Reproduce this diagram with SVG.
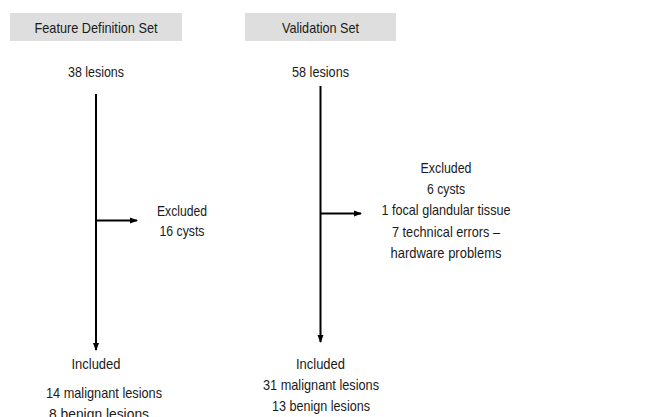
<svg xmlns="http://www.w3.org/2000/svg" width="665" height="417" viewBox="0 0 665 417">
<defs>
<marker id="ah" viewBox="0 0 8 8" refX="7" refY="4" markerWidth="8" markerHeight="8" markerUnits="userSpaceOnUse" orient="auto">
<path d="M0,1 L8,4 L0,7 Z" fill="#000"/>
</marker>
<style>
text{font-family:"Liberation Sans",Arial,sans-serif;font-size:15px;fill:#1a1a1a;text-anchor:middle}
.hdr{fill:#dedede}
.ln{stroke:#000;stroke-width:2;fill:none}
</style>
</defs>
<rect width="665" height="417" fill="#fff"/>
<g id="hdr-feature"><rect class="hdr" x="10" y="13" width="172" height="28"/><text x="96" y="33" textLength="123" lengthAdjust="spacingAndGlyphs">Feature Definition Set</text></g>
<g id="hdr-validation"><rect class="hdr" x="245" y="13" width="151" height="28"/><text x="320.5" y="33" textLength="77" lengthAdjust="spacingAndGlyphs">Validation Set</text></g>
<g id="n-38"><text x="96" y="77" textLength="56" lengthAdjust="spacingAndGlyphs">38 lesions</text></g>
<g id="n-58"><text x="320.5" y="77" textLength="57" lengthAdjust="spacingAndGlyphs">58 lesions</text></g>
<g id="n-excl-left"><text x="182" y="216" textLength="50" lengthAdjust="spacingAndGlyphs">Excluded</text><text x="182" y="236" textLength="45" lengthAdjust="spacingAndGlyphs">16 cysts</text></g>
<g id="n-excl-right"><text x="446" y="173" textLength="51" lengthAdjust="spacingAndGlyphs">Excluded</text><text x="446" y="194" textLength="38" lengthAdjust="spacingAndGlyphs">6 cysts</text><text x="446" y="215" textLength="129" lengthAdjust="spacingAndGlyphs">1 focal glandular tissue</text><text x="446" y="237" textLength="108" lengthAdjust="spacingAndGlyphs">7 technical errors –</text><text x="446" y="258" textLength="111" lengthAdjust="spacingAndGlyphs">hardware problems</text></g>
<g id="n-incl-left"><text x="96" y="369" textLength="49" lengthAdjust="spacingAndGlyphs">Included</text><text x="104" y="398" textLength="116" lengthAdjust="spacingAndGlyphs">14 malignant lesions</text><text x="99" y="419" textLength="100" lengthAdjust="spacingAndGlyphs">8 benign lesions</text></g>
<g id="n-incl-right"><text x="320.5" y="369" textLength="49" lengthAdjust="spacingAndGlyphs">Included</text><text x="321" y="390" textLength="116" lengthAdjust="spacingAndGlyphs">31 malignant lesions</text><text x="321" y="411" textLength="98" lengthAdjust="spacingAndGlyphs">13 benign lesions</text></g>
<g id="connectors">
<line class="ln" x1="96" y1="94" x2="96" y2="350" marker-end="url(#ah)"/>
<line class="ln" x1="96" y1="220.5" x2="137" y2="220.5" marker-end="url(#ah)"/>
<line class="ln" x1="320.5" y1="86" x2="320.5" y2="342" marker-end="url(#ah)"/>
<line class="ln" x1="320.5" y1="213.5" x2="361" y2="213.5" marker-end="url(#ah)"/>
</g>
</svg>
